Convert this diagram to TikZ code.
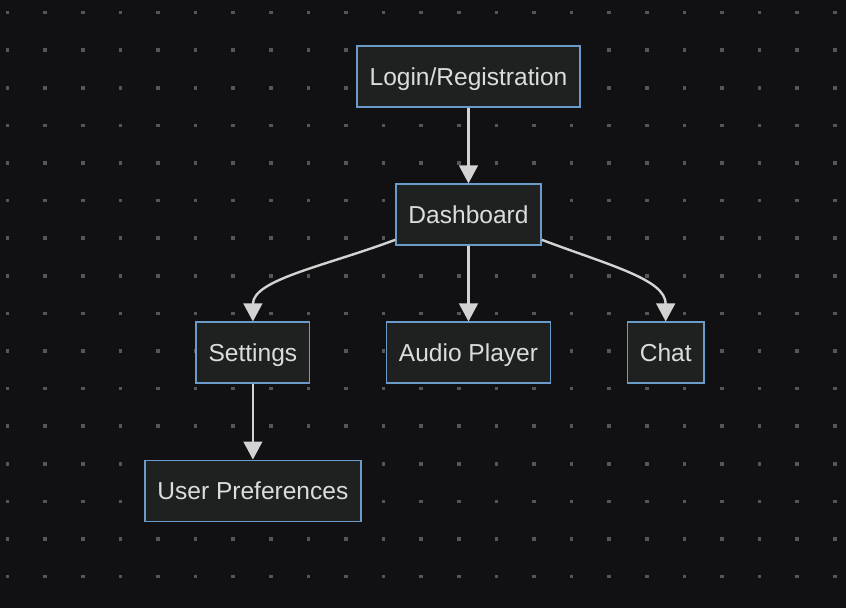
\documentclass[tikz,border=0pt]{standalone}
\usepackage{fontspec}
\setmainfont{Liberation Sans}
\usetikzlibrary{arrows.meta,positioning}
\definecolor{canvas}{HTML}{111113}
\definecolor{griddot}{HTML}{55555A}
\definecolor{boxfill}{HTML}{1F2121}
\definecolor{boxline}{HTML}{6B9BC8}
\definecolor{boxtext}{HTML}{DCDCDC}
\definecolor{edge}{HTML}{D3D3D3}

\begin{document}
\begin{tikzpicture}[x=0.75pt, y=-0.75pt,
  screen/.style={draw=boxline, fill=boxfill, line width=1pt, minimum height=45.75pt, inner xsep=9.4pt, text height=17.2pt, text depth=4pt, text=boxtext, font=\fontsize{18.4}{22}\selectfont},
  arr/.style={-{Triangle[length=13.5pt, width=14pt]}, line width=1.8pt, color=edge},
  node distance=56.8pt and 56.5pt
]
\fill[canvas] (0,0) rectangle (846,608);
\useasboundingbox (0,0) rectangle (846,608);
% dotted backdrop
\foreach \i in {0,...,22} \foreach \j in {0,...,15}
  \fill[griddot] (5.7+37.6*\i, 10.7+37.6*\j) rectangle ++(3.6,3.6);

\node[screen] (login) at (468.5,76.5) {Login/Registration};
\node[screen, below=of login] (dash) {Dashboard};
\node[screen, below=of dash] (audio) {Audio Player};
\node[screen, left=of audio] (settings) {Settings};
\node[screen, right=of audio] (chat) {Chat};
\node[screen, below=of settings] (prefs) {User Preferences};

\draw[arr] (login) -- (dash);
\draw[arr] (dash) -- (audio);
\draw[arr] (dash.-161) .. controls +(-69,26) and +(0,-42) .. (settings.north);
\draw[arr] (dash.-19) .. controls +(69,26) and +(0,-42) .. (chat.north);
\draw[arr] (settings) -- (prefs);
\end{tikzpicture}
\end{document}
